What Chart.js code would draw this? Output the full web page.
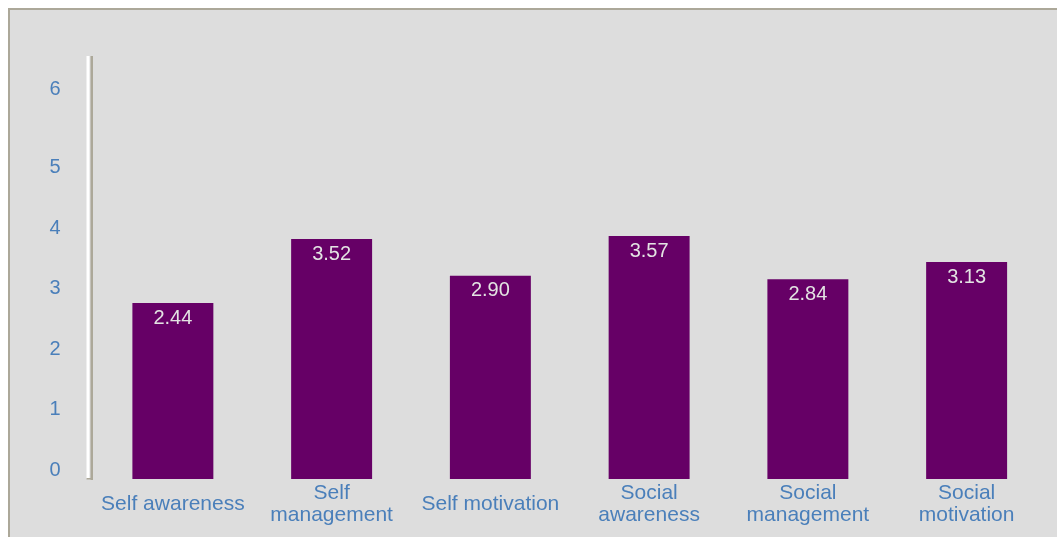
<!DOCTYPE html>
<html><head><meta charset="utf-8">
<script src="https://cdn.jsdelivr.net/npm/chart.js@4"></script>
<style>
html,body{margin:0;padding:0;background:#fff;}
body{width:1057px;height:537px;overflow:hidden;position:relative;}
#frame{position:absolute;left:8px;top:8px;width:1100px;height:600px;border:2px solid #aca899;background:#dddddd;box-sizing:border-box;}
#wrap{position:absolute;left:0;top:0;width:1057px;height:537px;}
</style></head><body>
<div id="frame"></div>
<div id="wrap"><canvas id="c"></canvas></div>
<script>
const categories = ["Self awareness", ["Self", "management"], "Self motivation", ["Social", "awareness"], ["Social", "management"], ["Social", "motivation"]];
const scores = [2.44, 3.52, 2.90, 3.57, 2.84, 3.13];
const yTickLabels = ["0", "1", "2", "3", "4", "5", "6"];

const BLUE = '#4a7fba';
const FONT = "'Liberation Sans', Arial, sans-serif";
const barAxisMin = -0.53, barAxisMax = 6.608;

const axisLinePlugin = {
  id: 'axisLine',
  beforeDatasetsDraw(chart) {
    const {ctx, chartArea: a} = chart;
    ctx.save();
    ctx.fillStyle = '#ffffff';
    ctx.fillRect(a.left - 7, a.top, 3, a.bottom - a.top);
    ctx.fillStyle = '#aca899';
    ctx.fillRect(a.left - 3, a.top, 2.5, a.bottom - a.top + 1);
    ctx.fillRect(a.left - 7, a.bottom - 1, 6.5, 1.5);
    ctx.restore();
  }
};

const valueLabelPlugin = {
  id: 'valueLabels',
  afterDatasetsDraw(chart) {
    const {ctx} = chart;
    const meta = chart.getDatasetMeta(0);
    ctx.save();
    ctx.font = '20px ' + FONT;
    ctx.fillStyle = '#e3e3e3';
    ctx.textAlign = 'center';
    ctx.textBaseline = 'middle';
    meta.data.forEach((el, i) => {
      ctx.fillText(chart.data.datasets[0].data[i].toFixed(2), el.x, el.y + 15);
    });
    ctx.restore();
  }
};

new Chart(document.getElementById('c'), {
  type: 'bar',
  data: {
    labels: categories,
    datasets: [{
      data: scores,
      backgroundColor: '#660066',
      base: barAxisMin,
      yAxisID: 'y',
      categoryPercentage: 1,
      barPercentage: 0.51
    }]
  },
  options: {
    responsive: true,
    maintainAspectRatio: false,
    animation: false,
    devicePixelRatio: 1,
    layout: {padding: {left: 0, right: 11, top: 56, bottom: 0}},
    plugins: {legend: {display: false}, tooltip: {enabled: false}},
    scales: {
      x: {
        grid: {display: false, drawTicks: false},
        border: {display: false},
        ticks: {
          color: BLUE,
          font: {family: FONT, size: 21, lineHeight: 1.05},
          padding: 14,
          crossAlign: 'center',
          maxRotation: 0,
          autoSkip: false
        },
        afterFit(s) { s.height = 58; }
      },
      y: {
        display: false,
        min: barAxisMin,
        max: barAxisMax
      },
      yl: {
        position: 'left',
        min: -0.14,
        max: 6.84,
        grid: {display: false, drawTicks: false},
        border: {display: false},
        ticks: {
          color: BLUE,
          font: {family: FONT, size: 20},
          padding: 33,
          autoSkip: false,
          callback: (v, i) => yTickLabels[i]
        },
        afterBuildTicks(s) {
          // the reference's top label sits a bit higher than the regular spacing
          s.ticks = yTickLabels.map((l, i) => ({value: i === yTickLabels.length - 1 ? i + 0.28 : i}));
        },
        afterFit(s) { s.width = 93.5; }
      }
    }
  },
  plugins: [axisLinePlugin, valueLabelPlugin]
});
</script>
</body></html>
